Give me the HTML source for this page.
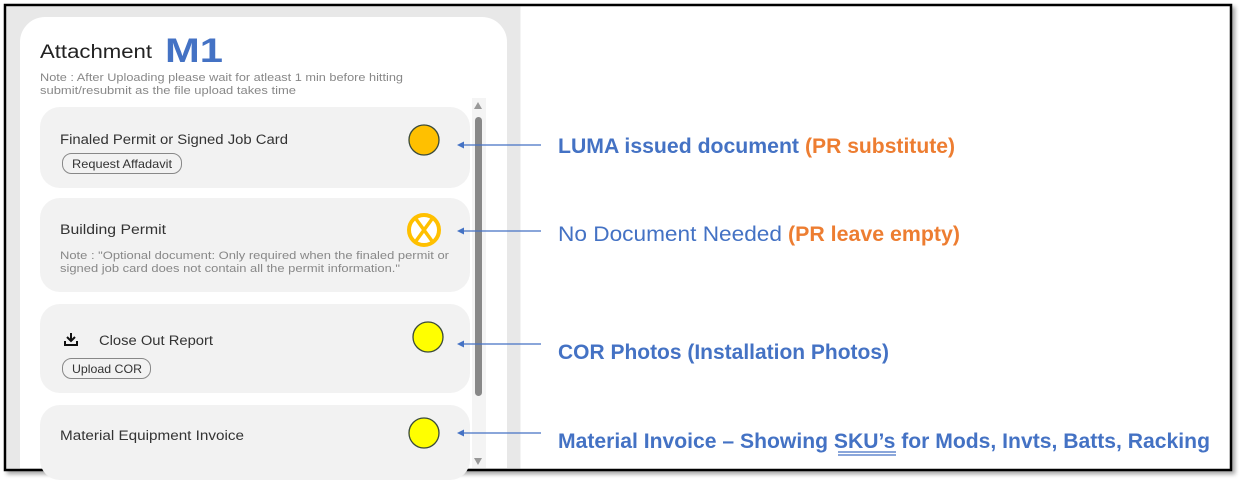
<!DOCTYPE html>
<html><head><meta charset="utf-8"><style>
html,body{margin:0;padding:0;background:#fff;width:1243px;height:485px;overflow:hidden}
</style></head><body>
<svg width="1243" height="485" viewBox="0 0 1243 485" xmlns="http://www.w3.org/2000/svg" font-family="Liberation Sans, sans-serif">
<defs><filter id="sh" x="-5%" y="-5%" width="110%" height="115%"><feDropShadow dx="3" dy="3" stdDeviation="2" flood-color="#000" flood-opacity="0.35"/></filter></defs>
<rect x="5" y="5" width="1226" height="465" fill="#fff" stroke="#000" stroke-width="2.5" filter="url(#sh)"/>
<rect x="6.5" y="6.5" width="514" height="462" fill="#e8e8e8"/>
<path d="M20 468 V42 a25 25 0 0 1 25 -25 H482 a25 25 0 0 1 25 25 V468 Z" fill="#fff"/>
<text x="40" y="58" font-size="19" fill="#222" textLength="112" lengthAdjust="spacingAndGlyphs">Attachment</text>
<text x="165" y="62" font-size="34" font-weight="bold" fill="#4472c4" textLength="58" lengthAdjust="spacingAndGlyphs">M1</text>
<text x="40" y="81" font-size="11" fill="#888" textLength="363" lengthAdjust="spacingAndGlyphs">Note : After Uploading please wait for atleast 1 min before hitting</text>
<text x="40" y="94" font-size="11" fill="#888" textLength="256" lengthAdjust="spacingAndGlyphs">submit/resubmit as the file upload takes time</text>
<!-- scrollbar -->
<rect x="472" y="98" width="14" height="370" fill="#f4f4f4"/>
<path d="M474 109 L478 102 L482 109 Z" fill="#999"/>
<rect x="475" y="117" width="7" height="279" rx="3.5" fill="#888"/>
<!-- rows -->
<rect x="40" y="107" width="430" height="81" rx="20" fill="#f2f2f2"/>
<text x="60" y="144" font-size="13.5" fill="#333" textLength="228" lengthAdjust="spacingAndGlyphs">Finaled Permit or Signed Job Card</text>
<rect x="62.5" y="153.5" width="119" height="20" rx="9" fill="none" stroke="#888"/>
<text x="72" y="168" font-size="12" fill="#333" textLength="100" lengthAdjust="spacingAndGlyphs">Request Affadavit</text>
<circle cx="424" cy="140" r="15" fill="#ffc000" stroke="#3a4a3a" stroke-width="1.3"/>
<rect x="40" y="198" width="430" height="94" rx="20" fill="#f2f2f2"/>
<text x="60" y="234" font-size="13.5" fill="#333" textLength="106" lengthAdjust="spacingAndGlyphs">Building Permit</text>
<text x="60" y="259" font-size="11" fill="#888" textLength="389" lengthAdjust="spacingAndGlyphs">Note : "Optional document: Only required when the finaled permit or</text>
<text x="60" y="272" font-size="11" fill="#888" textLength="340" lengthAdjust="spacingAndGlyphs">signed job card does not contain all the permit information."</text>
<circle cx="424" cy="230" r="15" fill="#fff" stroke="#ffc000" stroke-width="4"/>
<path d="M416 219 L432 241 M432 219 L416 241" stroke="#ffc000" stroke-width="3.5"/>
<rect x="40" y="304" width="430" height="89" rx="20" fill="#f2f2f2"/>
<path d="M71 333 v8 M67 337 l4 4 l4 -4 M65 341 v4 h12 v-4" stroke="#111" stroke-width="2" fill="none"/>
<text x="99" y="345" font-size="13.5" fill="#333" textLength="114" lengthAdjust="spacingAndGlyphs">Close Out Report</text>
<rect x="62.5" y="358.5" width="88" height="20" rx="9" fill="none" stroke="#888"/>
<text x="72" y="373" font-size="12" fill="#333" textLength="70" lengthAdjust="spacingAndGlyphs">Upload COR</text>
<circle cx="428" cy="337" r="15" fill="#ffff00" stroke="#3a4a3a" stroke-width="1.3"/>
<rect x="40" y="405" width="430" height="75" rx="20" fill="#f2f2f2"/>
<text x="60" y="440" font-size="13.5" fill="#333" textLength="184" lengthAdjust="spacingAndGlyphs">Material Equipment Invoice</text>
<circle cx="424" cy="433" r="15" fill="#ffff00" stroke="#3a4a3a" stroke-width="1.3"/>
<rect x="472" y="452" width="14" height="16" fill="#f4f4f4"/>
<path d="M474 458 L478 465 L482 458 Z" fill="#999"/>
<!-- arrows -->
<g stroke="#4472c4" stroke-width="1.2" fill="#4472c4">
<line x1="462" y1="145" x2="541" y2="145"/><path d="M457 145 l7 -3.5 v7 Z" stroke="none"/>
<line x1="462" y1="231" x2="541" y2="231"/><path d="M457 231 l7 -3.5 v7 Z" stroke="none"/>
<line x1="462" y1="344" x2="541" y2="344"/><path d="M457 344 l7 -3.5 v7 Z" stroke="none"/>
<line x1="462" y1="433" x2="541" y2="433"/><path d="M457 433 l7 -3.5 v7 Z" stroke="none"/>
</g>
<g font-size="21">
<text x="558" y="153" font-weight="bold" fill="#4472c4" textLength="241" lengthAdjust="spacingAndGlyphs">LUMA issued document</text>
<text x="805" y="153" font-weight="bold" fill="#ed7d31" textLength="150" lengthAdjust="spacingAndGlyphs">(PR substitute)</text>
<text x="558" y="241" fill="#4472c4" textLength="224" lengthAdjust="spacingAndGlyphs">No Document Needed</text>
<text x="788" y="241" font-weight="bold" fill="#ed7d31" textLength="172" lengthAdjust="spacingAndGlyphs">(PR leave empty)</text>
<text x="558" y="359" font-weight="bold" fill="#4472c4" textLength="331" lengthAdjust="spacingAndGlyphs">COR Photos (Installation Photos)</text>
<text x="558" y="448" font-weight="bold" fill="#4472c4" textLength="652" lengthAdjust="spacingAndGlyphs">Material Invoice – Showing SKU’s for Mods, Invts, Batts, Racking</text>
</g>
<line x1="838" y1="452" x2="896" y2="452" stroke="#4472c4" stroke-width="1.2"/>
<line x1="838" y1="455" x2="896" y2="455" stroke="#4472c4" stroke-width="1.2"/>
</svg>
</body></html>
